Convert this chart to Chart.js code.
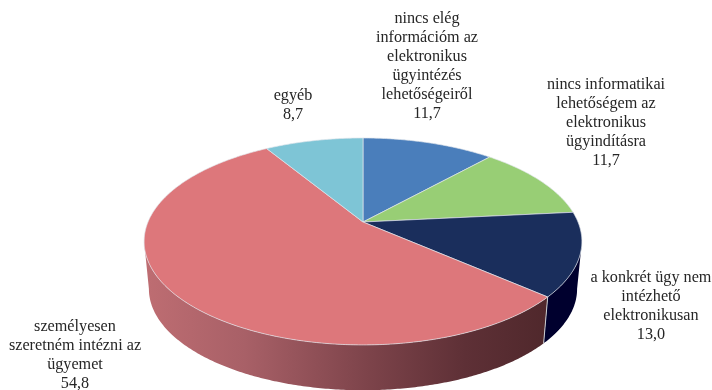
<!DOCTYPE html>
<html><head><meta charset="utf-8">
<style>html,body{margin:0;padding:0;background:#fff}canvas{display:block;filter:blur(0.35px)}</style>
<script src="https://cdn.jsdelivr.net/npm/chart.js@4/dist/chart.umd.min.js"></script>
</head><body>
<canvas id="c" width="712" height="390"></canvas>
<script>
const categories = [
  ["nincs elég","információm az","elektronikus","ügyintézés","lehetőségeiről"],
  ["nincs informatikai","lehetőségem az","elektronikus","ügyindításra"],
  ["a konkrét ügy nem","intézhető","elektronikusan"],
  ["személyesen","szeretném intézni az","ügyemet"],
  ["egyéb"]
];
const values = [11.7, 11.7, 13.0, 54.8, 8.7];
const valueLabels = ["11,7","11,7","13,0","54,8","8,7"];
const topColors = ["#4A7EBB","#98CE75","#1A2E5C","#DD777B","#7EC5D6"];
const labelCenters = [[427,19],[606,85],[651,278],[75,327],[293,96]];
const LINE = 19;

// perspective projection of the pie disc
const view = {x0:363, y0:222, A:99.8, B:215, k:0.188, depth:48, shrink:0.978};
const tangent = Math.asin(view.k); // angle of the disc's widest points
function proj(a, lower){
  const u=Math.cos(a), v=Math.sin(a), w=1-view.k*v, s=lower?view.shrink:1;
  return [view.x0+s*view.B*u/w, view.y0+(lower?view.depth:0)+s*view.A*v/w];
}
function arcPts(a0,a1,lower){
  const n=Math.max(2,Math.ceil((a1-a0)/0.01)), out=[];
  for(let i=0;i<=n;i++) out.push(proj(a0+(a1-a0)*i/n,lower));
  return out;
}
function wallFill(ctx,i){
  if(i===3){
    const g=ctx.createLinearGradient(145,0,545,0);
    g.addColorStop(0,"#BE6D72");g.addColorStop(0.25,"#A86067");g.addColorStop(0.55,"#7E444B");g.addColorStop(0.8,"#5E3036");g.addColorStop(1,"#50282C");
    return g;
  }
  if(i===2) return "#00002E";
  return "#333";
}
const pie3d = {
  id:"pie3d",
  beforeDatasetDraw(chart,args){
    const ctx=chart.ctx, arcs=chart.getDatasetMeta(args.index).data;
    ctx.save();
    // side wall, the part between the two widest points of the disc
    arcs.forEach((el,i)=>{
      const a0=Math.max(el.startAngle,tangent), a1=Math.min(el.endAngle,Math.PI-tangent);
      if(a1<=a0) return;
      const t=arcPts(a0,a1,false), b=arcPts(a0,a1,true).reverse();
      ctx.beginPath();
      t.concat(b).forEach((p,j)=>j?ctx.lineTo(p[0],p[1]):ctx.moveTo(p[0],p[1]));
      ctx.closePath();
      ctx.fillStyle=wallFill(ctx,i);ctx.fill();
    });
    // wall seam at the pink/navy corner
    const seam=arcs[3].startAngle, s0=proj(seam,false), s1=proj(seam,true);
    ctx.strokeStyle="#C9CDD2";ctx.lineWidth=1;
    ctx.beginPath();ctx.moveTo(s0[0],s0[1]);ctx.lineTo(s1[0],s1[1]);ctx.stroke();
    // top faces
    arcs.forEach((el,i)=>{
      const pts=arcPts(el.startAngle,el.endAngle,false);
      ctx.beginPath();ctx.moveTo(view.x0,view.y0);
      pts.forEach(p=>ctx.lineTo(p[0],p[1]));
      ctx.closePath();
      ctx.fillStyle=el.options.backgroundColor;ctx.fill();
      ctx.strokeStyle="rgba(225,230,235,0.75)";ctx.lineWidth=0.9;ctx.stroke();
    });
    ctx.restore();
    return false;
  },
  afterDraw(chart){
    const ctx=chart.ctx;
    ctx.save();
    ctx.font='16.2px "Liberation Serif"';
    ctx.fillStyle="#262626";ctx.textAlign="center";ctx.textBaseline="middle";
    categories.forEach((lines,i)=>{
      const [cx,cy]=labelCenters[i];
      lines.concat(valueLabels[i]).forEach((t,j)=>ctx.fillText(t,cx,cy+j*LINE));
    });
    ctx.restore();
  }
};
new Chart(document.getElementById("c"),{
  type:"pie",
  data:{labels:categories,datasets:[{data:values,backgroundColor:topColors,borderWidth:0}]},
  options:{responsive:false,animation:false,
    plugins:{legend:{display:false},tooltip:{enabled:false}}},
  plugins:[pie3d]
});
</script>
</body></html>
